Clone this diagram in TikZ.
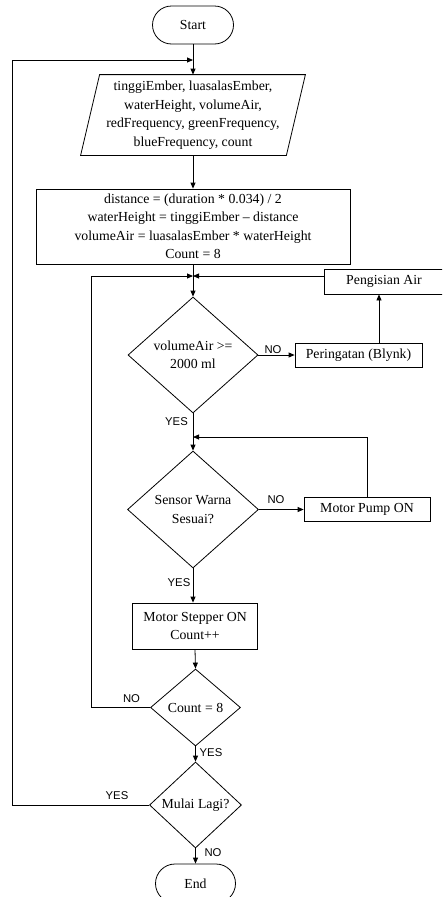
\documentclass[tikz,border=0pt]{standalone}
\usepackage{fontspec}
\setmainfont{Liberation Serif}
\newfontfamily\lblfont{Liberation Sans}
\usetikzlibrary{shapes.geometric,shapes.misc,arrows.meta}
\tikzset{
  txt/.style={inner sep=0pt, align=center, font=\fontsize{13.8}{18.5}\selectfont},
  procbox/.style={txt, draw, rectangle},
  decision/.style={txt, draw, diamond, aspect=1},
  term/.style={txt, draw, rounded rectangle, minimum width=81pt, minimum height=38pt},
  lbl/.style={inner sep=0pt, font=\lblfont\fontsize{11.3}{13}\selectfont},
  arr/.style={-{Triangle[length=6pt,width=5pt]}}
}
\begin{document}
\begin{tikzpicture}[x=1pt,y=-1pt,line width=0.8pt]
\useasboundingbox (0,0) rectangle (442,897);
\clip (0,0) rectangle (442,897);
% nodes
\node[term] (start) at (193,25) {Start};
\node[txt, minimum width=205pt, minimum height=80pt] (io) at (193,115)
  {tinggiEmber, luasalasEmber,\\ waterHeight, volumeAir,\\ redFrequency, greenFrequency,\\ blueFrequency, count};
\draw ([xshift=9.5pt]io.north west) -- ([xshift=9.5pt]io.north east) -- ([xshift=-9.5pt]io.south east) -- ([xshift=-9.5pt]io.south west) -- cycle;
\node[procbox, minimum width=314pt, minimum height=75pt] (calc) at (193,226.5)
  {distance = (duration * 0.034) / 2\\ waterHeight = tinggiEmber -- distance\\ volumeAir = luasalasEmber * waterHeight\\ Count = 8};
\coordinate (o1) at (193,60);
\coordinate (lx) at (12.7,60);
\coordinate (m1) at (193,276);
\coordinate (ix) at (91.7,276);
\node[decision, minimum width=130pt, minimum height=116pt] (d1) at (193,355) {volumeAir >=\\ 2000 ml};
\node[procbox, minimum width=127pt, minimum height=24pt] (per) at (358.5,355) {Peringatan (Blynk)};
\node[procbox, minimum width=120pt, minimum height=25pt] (peng) at (384,281.5) {Pengisian Air};
\coordinate (vx) at (379,300);
\coordinate (m2) at (193,437);
\node[decision, minimum width=131pt, minimum height=117pt] (d2) at (193,509.5) {Sensor Warna\\ Sesuai?};
\node[procbox, minimum width=126pt, minimum height=24pt] (pump) at (367,509.5) {Motor Pump ON};
\node[procbox, minimum width=125pt, minimum height=46pt] (step) at (195,626) {Motor Stepper ON\\ Count++};
\node[decision, minimum width=90pt, minimum height=77pt] (d3) at (195.5,707.5) {Count = 8};
\node[decision, minimum width=92pt, minimum height=86pt] (d4) at (195.5,805) {Mulai Lagi?};
\node[term, minimum width=80pt, minimum height=39pt] (end) at (195.5,883.5) {End};
% connectors
\draw[arr] (start.south) -- (io.north);
\draw[arr] (io.south) -- (calc.north);
\draw[arr] (calc.south) -- (d1.north);
\draw[arr] (d1.east) -- (per.west);
\draw[arr] (per.north -| vx) -- (peng.south -| vx);
\draw[arr] (m1 -| peng.west) -- (m1);
\draw[arr] (d1.south) -- (d2.north);
\draw[arr] (d2.east) -- (pump.west);
\draw[arr] (pump.north) |- (m2);
\draw[arr] (d2.south) -- (d2.south |- step.north);
\draw[arr] (step.south) -- (d3.north);
\draw[arr] (d3.west) -| (ix) -- (m1);
\draw[arr] (d3.south) -- (d4.north);
\draw[arr] (d4.west) -| (lx) -- (o1);
\draw[arr] (d4.south) -- (end.north);
% labels
\node[lbl] (l1) at (273,350) {NO};
\node[lbl] (l2) at (176.5,422) {YES};
\node[lbl] (l3) at (276,500) {NO};
\node[lbl] (l4) at (179,583) {YES};
\node[lbl] (l5) at (131.5,699) {NO};
\node[lbl] (l6) at (211,753) {YES};
\node[lbl] (l7) at (117,796) {YES};
\node[lbl] (l8) at (213,853) {NO};
\end{tikzpicture}
\end{document}
